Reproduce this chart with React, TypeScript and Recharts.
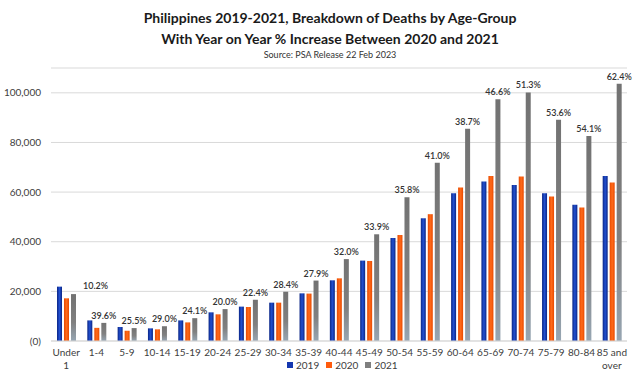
import React from "react";
import { Bar, BarChart, CartesianGrid, LabelList, XAxis, YAxis } from "recharts";

// Deaths by age group
const ageGroups = [
  "Under 1", "1-4", "5-9", "10-14", "15-19", "20-24", "25-29", "30-34", "35-39", "40-44",
  "45-49", "50-54", "55-59", "60-64", "65-69", "70-74", "75-79", "80-84", "85 and over",
];
const deaths2019 = [
  21900, 8300, 5650, 5100, 8300, 11550, 13850, 15450, 19200, 24450,
  32400, 41500, 49450, 59550, 64250, 62900, 59550, 54850, 66500,
];
const deaths2020 = [
  17200, 5300, 4150, 4700, 7500, 10750, 13700, 15450, 19100, 25250,
  32250, 42700, 51100, 61800, 66500, 66250, 58200, 53750, 63850,
];
const deaths2021 = [
  18900, 7300, 5200, 5950, 9200, 12850, 16600, 19850, 24350, 33000,
  43000, 57900, 71800, 85500, 97450, 100150, 89100, 82600, 103650,
];
const yoyLabels = [
  "10.2%", "39.6%", "25.5%", "29.0%", "24.1%", "20.0%", "22.4%", "28.4%", "27.9%", "32.0%",
  "33.9%", "35.8%", "41.0%", "38.7%", "46.6%", "51.3%", "53.6%", "54.1%", "62.4%",
];
const yTicks = [0, 20000, 40000, 60000, 80000, 100000];

const data = ageGroups.map((label, i) => ({
  label,
  y2019: deaths2019[i],
  y2020: deaths2020[i],
  y2021: deaths2021[i],
  pct: yoyLabels[i],
}));

const FONT = "Lato, 'Open Sans', sans-serif";
const TEXT = "#404040";
const BLUE = "#1537b0";
const ORANGE = "#ff5b0d";
const GREY = "#7f7f7f";

function AgeTick({ x, y, payload }: any) {
  const s: string = payload.value;
  const cut = s.lastIndexOf(" ");
  const lines = cut > 0 ? [s.slice(0, cut), s.slice(cut + 1)] : [s];
  return (
    <text x={x} y={y} textAnchor="middle" fill={TEXT} fontSize={10} fontFamily={FONT}>
      {lines.map((l, i) => (
        <tspan key={i} x={x} dy={i === 0 ? "0.71em" : 13}>
          {l}
        </tspan>
      ))}
    </text>
  );
}

function PctLabel({ x, y, width, value, index }: any) {
  // Excel nudged the first label off to the right of its bar
  const first = index === 0;
  return (
    <text
      x={x + width / 2 + (first ? 22 : 0)}
      y={y - 4 + (first ? -1 : 0)}
      textAnchor="middle"
      fill="#333"
      fontSize={9}
      fontWeight={600}
      fontFamily={FONT}
    >
      {value}
    </text>
  );
}

const legendItems = [
  { name: "2019", color: BLUE },
  { name: "2020", color: ORANGE },
  { name: "2021", color: GREY },
];

export default function App() {
  return (
    <div
      style={{
        position: "absolute",
        left: 0,
        top: 0,
        width: 639,
        height: 378,
        background: "#fff",
        fontFamily: FONT,
        color: TEXT,
      }}
    >
      <div style={{ position: "absolute", top: 7, left: 0, width: 660, textAlign: "center" }}>
        <div style={{ fontSize: 14, fontWeight: 700, color: "#1a1a1a", lineHeight: "21px" }}>
          Philippines 2019-2021, Breakdown of Deaths by Age-Group
        </div>
        <div style={{ fontSize: 14, fontWeight: 700, color: "#1a1a1a", lineHeight: "21px" }}>
          With Year on Year % Increase Between 2020 and 2021
        </div>
        <div style={{ fontSize: 9, color: "#333", lineHeight: "12px" }}>
          Source: PSA Release 22 Feb 2023
        </div>
      </div>

      <BarChart
        width={639}
        height={378}
        data={data}
        margin={{ top: 68, right: 12, bottom: 0, left: 0 }}
        barSize={5}
        barGap={2}
        style={{ position: "absolute", left: 0, top: 0 }}
      >
        <defs>
          <linearGradient id="g2019" x1="0" y1="0" x2="1" y2="0">
            <stop offset="0%" stopColor="#0a2585" />
            <stop offset="50%" stopColor="#2250d0" />
            <stop offset="100%" stopColor="#0a2585" />
          </linearGradient>
          <linearGradient id="g2020" x1="0" y1="0" x2="1" y2="0">
            <stop offset="0%" stopColor="#e84a00" />
            <stop offset="50%" stopColor="#ff6a1a" />
            <stop offset="100%" stopColor="#e84a00" />
          </linearGradient>
          <linearGradient id="g2021" x1="0" y1="0" x2="0" y2="1">
            <stop offset="0%" stopColor="#727272" />
            <stop offset="60%" stopColor="#808080" />
            <stop offset="100%" stopColor="#97a6b3" />
          </linearGradient>
        </defs>
        <CartesianGrid vertical={false} stroke="#d9d9d9" />
        <XAxis
          dataKey="label"
          interval={0}
          tickLine={false}
          axisLine={{ stroke: "#d9d9d9" }}
          tick={<AgeTick />}
          height={37}
        />
        <YAxis
          type="number"
          domain={[0, 110000]}
          ticks={yTicks}
          tickLine={false}
          axisLine={false}
          tickMargin={4}
          width={51}
          tick={{ fill: TEXT, fontSize: 10, fontFamily: FONT }}
          tickFormatter={(v: number) => (v === 0 ? "(0)" : v.toLocaleString("en-US"))}
        />
        <Bar dataKey="y2019" name="2019" fill="url(#g2019)" isAnimationActive={false} />
        <Bar dataKey="y2020" name="2020" fill="url(#g2020)" isAnimationActive={false} />
        <Bar dataKey="y2021" name="2021" fill="url(#g2021)" isAnimationActive={false}>
          <LabelList dataKey="pct" content={<PctLabel />} />
        </Bar>
      </BarChart>

      <div
        style={{
          position: "absolute",
          top: 358,
          left: 287,
          display: "flex",
          gap: 7,
          fontSize: 10,
          lineHeight: "14px",
        }}
      >
        {legendItems.map((it) => (
          <div key={it.name} style={{ display: "flex", alignItems: "center", gap: 3 }}>
            <span style={{ width: 6, height: 6, background: it.color, display: "inline-block" }} />
            {it.name}
          </div>
        ))}
      </div>
    </div>
  );
}
